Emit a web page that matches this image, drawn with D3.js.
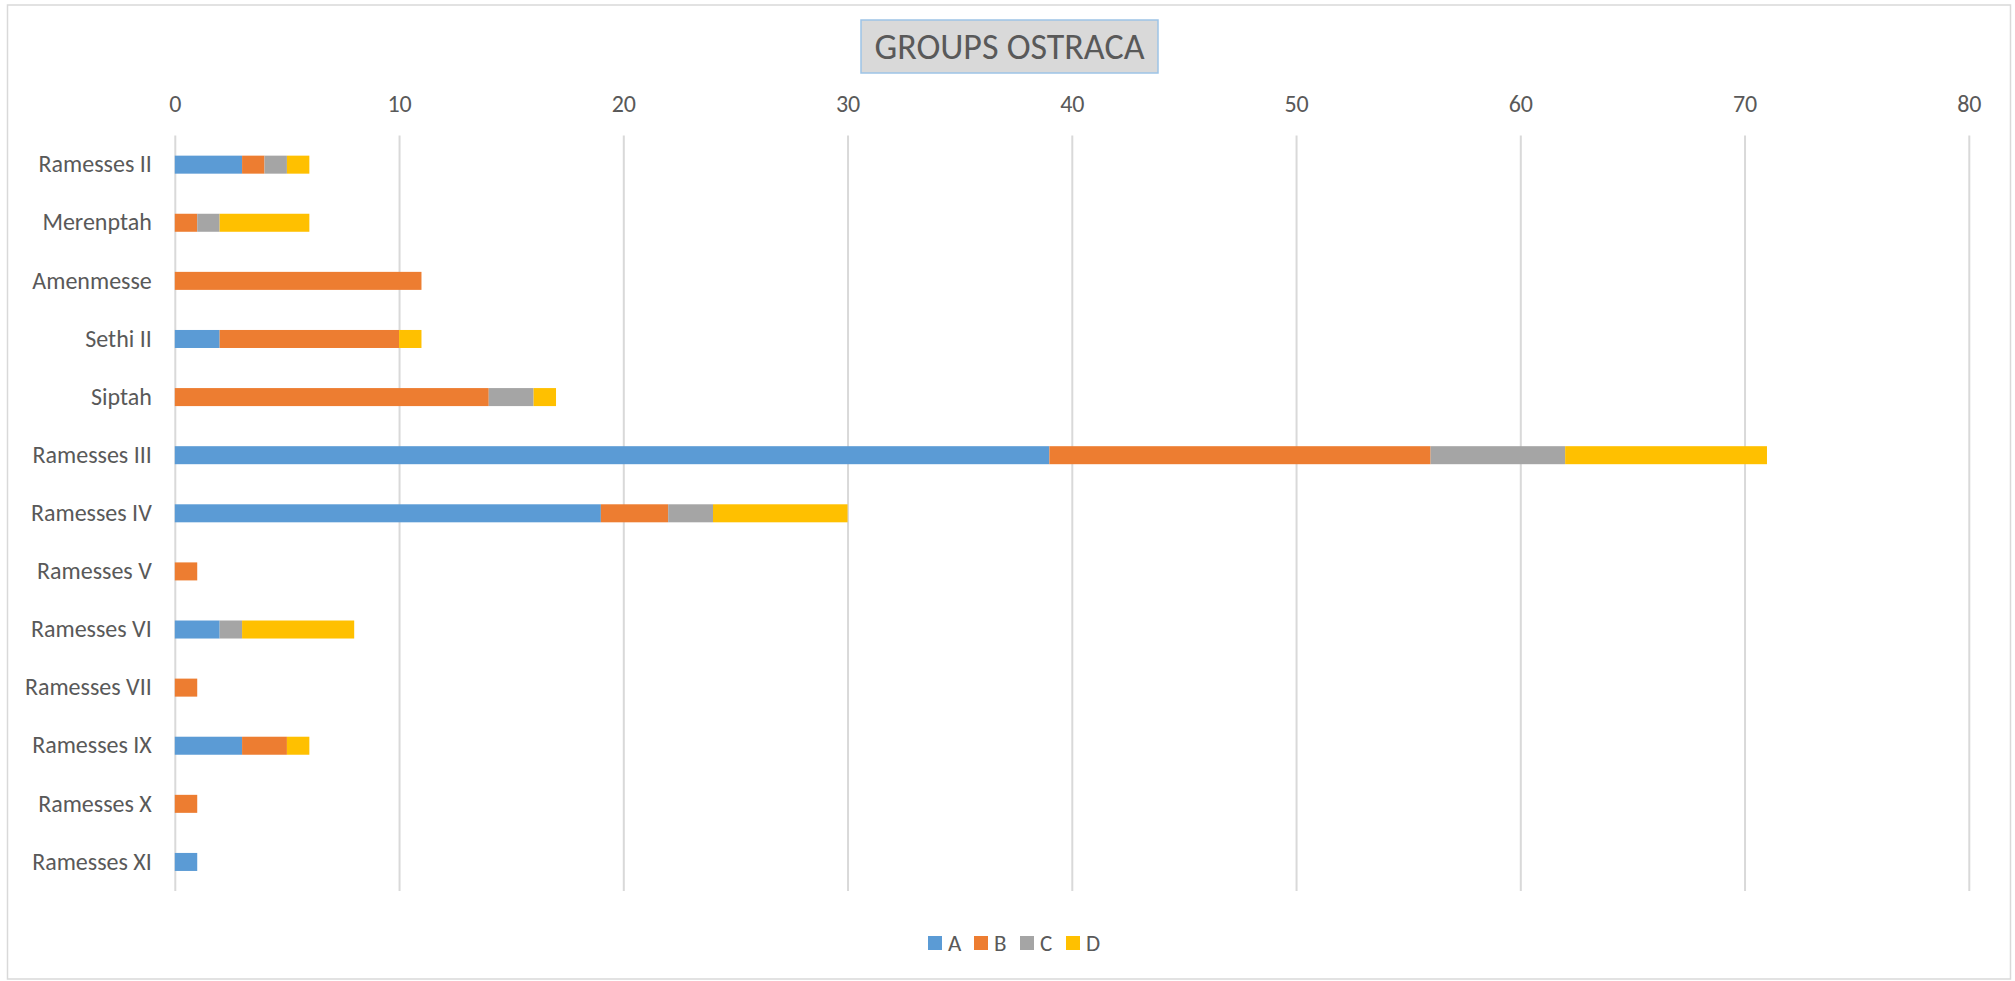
<!DOCTYPE html>
<html>
<head>
<meta charset="utf-8">
<script src="https://cdn.jsdelivr.net/npm/d3@7"></script>
<style>
  body { margin: 0; background: #fff; }
  svg text { font-family: Carlito, Calibri, "Liberation Sans", Arial, sans-serif; fill: #595959; }
  .grid line { stroke: #d9d9d9; stroke-width: 2; }
</style>
</head>
<body>
<svg class="chart"></svg>
<script>
var reigns = ['Ramesses II', 'Merenptah', 'Amenmesse', 'Sethi II', 'Siptah', 'Ramesses III',
    'Ramesses IV', 'Ramesses V', 'Ramesses VI', 'Ramesses VII', 'Ramesses IX', 'Ramesses X', 'Ramesses XI'];
var groups = ['A', 'B', 'C', 'D'];
var groupA = [3, 0, 0, 2, 0, 39, 19, 0, 2, 0, 3, 0, 1];
var groupB = [1, 1, 11, 8, 14, 17, 3, 1, 0, 1, 2, 1, 0];
var groupC = [1, 1, 0, 0, 2, 6, 2, 0, 1, 0, 0, 0, 0];
var groupD = [1, 4, 0, 1, 1, 9, 6, 0, 5, 0, 1, 0, 0];
var xTicks = [0, 10, 20, 30, 40, 50, 60, 70, 80];
var colors = ['#5b9bd5', '#ed7d31', '#a5a5a5', '#ffc000'];

(function () {
    'use strict';

    var width = 2015, height = 981;
    var plot = { left: 174.8, right: 1968.8, top: 135.6, bottom: 891 };

    var svg = d3.select('.chart')
        .attr('width', width)
        .attr('height', height);

    // outer frame
    svg.append('rect')
        .attr('x', 7.5).attr('y', 5)
        .attr('width', 2003).attr('height', 974)
        .attr('fill', '#fff')
        .attr('stroke', '#d9d9d9')
        .attr('stroke-width', 1.5);

    var rows = reigns.map(function (name, i) {
        return { name: name, A: groupA[i], B: groupB[i], C: groupC[i], D: groupD[i] };
    });

    var x = d3.scaleLinear().domain([0, 80]).range([plot.left, plot.right]);
    var y = d3.scaleBand().domain(reigns).range([plot.top, plot.bottom])
        .paddingInner(0.69).paddingOuter(0.345);

    // top axis with gridlines
    var xAxis = d3.axisTop(x).tickValues(xTicks)
        .tickSizeInner(-(plot.bottom - plot.top)).tickSizeOuter(0).tickPadding(24);
    var gx = svg.append('g')
        .attr('class', 'grid')
        .attr('transform', 'translate(0,' + plot.top + ')')
        .call(xAxis);
    gx.select('.domain').remove();
    gx.attr('font-family', null).attr('font-size', null);
    gx.selectAll('text')
        .attr('font-size', 24)
        .attr('fill', '#595959');

    var yAxis = d3.axisLeft(y).tickSize(0).tickPadding(23);
    var gy = svg.append('g')
        .attr('transform', 'translate(' + plot.left + ',0)')
        .call(yAxis);
    gy.select('.domain').remove();
    gy.attr('font-family', null).attr('font-size', null);
    gy.selectAll('text')
        .attr('font-size', 24)
        .attr('fill', '#595959');

    var stacked = d3.stack().keys(groups)(rows);

    svg.append('g').selectAll('g')
        .data(stacked)
        .enter()
        .append('g')
        .attr('fill', function (d, i) { return colors[i]; })
        .selectAll('rect')
        .data(function (d) { return d; })
        .enter()
        .append('rect')
        .attr('x', function (d) { return x(d[0]); })
        .attr('y', function (d) { return y(d.data.name); })
        .attr('width', function (d) { return x(d[1]) - x(d[0]); })
        .attr('height', y.bandwidth());

    // title box
    var title = svg.append('g');
    title.append('rect')
        .attr('x', 861).attr('y', 20)
        .attr('width', 297).attr('height', 53)
        .attr('fill', '#d9d9d9')
        .attr('stroke', '#9dc3e6')
        .attr('stroke-width', 1.5);
    title.append('text')
        .attr('x', 1009.5).attr('y', 59)
        .attr('text-anchor', 'middle')
        .attr('font-size', 36)
        .text('GROUPS OSTRACA');

    // legend
    var legend = svg.append('g').selectAll('g')
        .data(groups)
        .enter()
        .append('g')
        .attr('transform', function (d, i) { return 'translate(' + (928 + i * 46) + ',936)'; });
    legend.append('rect')
        .attr('width', 14).attr('height', 14)
        .attr('fill', function (d, i) { return colors[i]; });
    legend.append('text')
        .attr('x', 20).attr('y', 14.5)
        .attr('font-size', 23)
        .text(function (d) { return d; });
})();
</script>
</body>
</html>
